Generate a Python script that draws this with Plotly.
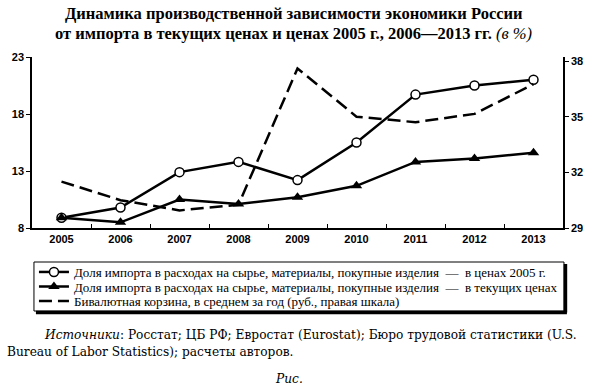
import plotly.graph_objects as go

years = ["2005", "2006", "2007", "2008", "2009", "2010", "2011", "2012", "2013"]
share_2005_prices = [8.9, 9.8, 12.9, 13.8, 12.2, 15.5, 19.7, 20.5, 21.0]
share_current_prices = [8.9, 8.5, 10.5, 10.1, 10.7, 11.7, 13.8, 14.1, 14.6]
basket_rub = [31.5, 30.5, 29.95, 30.25, 37.6, 35.0, 34.7, 35.15, 36.75]

left_ticks = [8, 13, 18, 23]
right_ticks = [29, 32, 35, 38]

name1 = "Доля импорта в расходах на сырье, материалы, покупные изделия  —  в ценах 2005 г."
name2 = "Доля импорта в расходах на сырье, материалы, покупные изделия  —  в текущих ценах"
name3 = "Бивалютная корзина, в среднем за год (руб., правая шкала)"

W, H = 595, 388
L, R, T, B = 30, 23, 57, 160
pw = W - L - R
ph = H - T - B


def px2x(px):
    return (px - L) / pw


def py2y(py):
    return (H - B - py) / ph


fig = go.Figure()
fig.add_trace(go.Scatter(
    x=years, y=share_2005_prices, name=name1, mode="lines+markers", legend="legend",
    line=dict(color="black", width=2.5),
    marker=dict(symbol="circle", size=9, color="white", line=dict(color="black", width=1.5)),
))
fig.add_trace(go.Scatter(
    x=years, y=share_current_prices, name=name2, mode="lines+markers", legend="legend2",
    line=dict(color="black", width=2.5),
    marker=dict(symbol="triangle-up", size=10, color="black"),
))
fig.add_trace(go.Scatter(
    x=years, y=basket_rub, name=name3, mode="lines", yaxis="y2", legend="legend3",
    line=dict(color="black", width=2.5, dash="13px,6px"),
))

tickfont = dict(family="Liberation Sans", size=11, color="black", weight="bold")
legfont = dict(family="Liberation Serif", size=13, color="black")


def leg(py):
    return dict(
        x=px2x(32), y=py2y(py), xanchor="left", yanchor="middle",
        font=legfont, bgcolor="rgba(0,0,0,0)", borderwidth=0, itemwidth=30,
    )


fig.update_layout(
    width=W, height=H,
    margin=dict(l=L, r=R, t=T, b=B),
    paper_bgcolor="white", plot_bgcolor="white",
    showlegend=True,
    font=dict(family="Liberation Serif", color="black"),
    xaxis=dict(
        type="category", range=[-0.5, 8.5], showgrid=False,
        showline=True, linecolor="black", linewidth=1.5,
        ticks="inside", ticklen=4, tickcolor="black", tickson="boundaries",
        tickfont=tickfont, zeroline=False,
    ),
    yaxis=dict(
        range=[8, 23], tickvals=left_ticks, showgrid=False, zeroline=False,
        showline=True, linecolor="black", linewidth=1.5,
        ticks="outside", ticklen=4, tickcolor="black", tickfont=tickfont,
    ),
    yaxis2=dict(
        range=[29, 29 + 9 * 171 / 167], tickvals=right_ticks, overlaying="y", side="right",
        showgrid=False, zeroline=False,
        showline=True, linecolor="black", linewidth=1.5,
        ticks="outside", ticklen=4, tickcolor="black", tickfont=tickfont,
    ),
    legend=leg(272),
    legend2=leg(286.5),
    legend3=leg(301),
)

# legend frame with heavy shadow on right and bottom
fig.add_shape(type="rect", xref="paper", yref="paper", x0=px2x(32), x1=px2x(573),
              y0=py2y(311), y1=py2y(262), line=dict(color="black", width=1))
fig.add_shape(type="line", xref="paper", yref="paper", x0=px2x(574.5), x1=px2x(574.5),
              y0=py2y(264), y1=py2y(312.5), line=dict(color="black", width=3.5))
fig.add_shape(type="line", xref="paper", yref="paper", x0=px2x(34), x1=px2x(576),
              y0=py2y(312.5), y1=py2y(312.5), line=dict(color="black", width=3.5))

serif = "Liberation Serif"
fig.add_annotation(
    text="<b>Динамика производственной зависимости экономики России</b>",
    xref="paper", yref="paper", x=px2x(297), y=py2y(13), xanchor="center", yanchor="middle",
    showarrow=False, font=dict(family=serif, size=16.5, color="black"),
)
fig.add_annotation(
    text="<b>от импорта в текущих ценах и ценах 2005 г., 2006—2013 гг.</b> <i>(в %)</i>",
    xref="paper", yref="paper", x=px2x(297), y=py2y(33), xanchor="center", yanchor="middle",
    showarrow=False, font=dict(family=serif, size=16.5, color="black"),
)
srcfont = dict(family="DejaVu Serif", size=12.2, color="black")
fig.add_annotation(
    text="<i>Источники</i>: Росстат; ЦБ РФ; Евростат (Eurostat); Бюро трудовой статистики (U.S.",
    xref="paper", yref="paper", x=px2x(40), y=py2y(335), xanchor="left", yanchor="middle",
    showarrow=False, font=srcfont,
)
fig.add_annotation(
    text="Bureau of Labor Statistics); расчеты авторов.",
    xref="paper", yref="paper", x=px2x(2), y=py2y(352), xanchor="left", yanchor="middle",
    showarrow=False, font=srcfont,
)
fig.add_annotation(
    text="<i>Рис.</i>",
    xref="paper", yref="paper", x=px2x(292), y=py2y(379), xanchor="center", yanchor="middle",
    showarrow=False, font=srcfont,
)

fig.write_html(
    "out.html",
    config={"displayModeBar": False},
    post_script="document.body.style.margin='0';document.body.style.padding='0';",
)
